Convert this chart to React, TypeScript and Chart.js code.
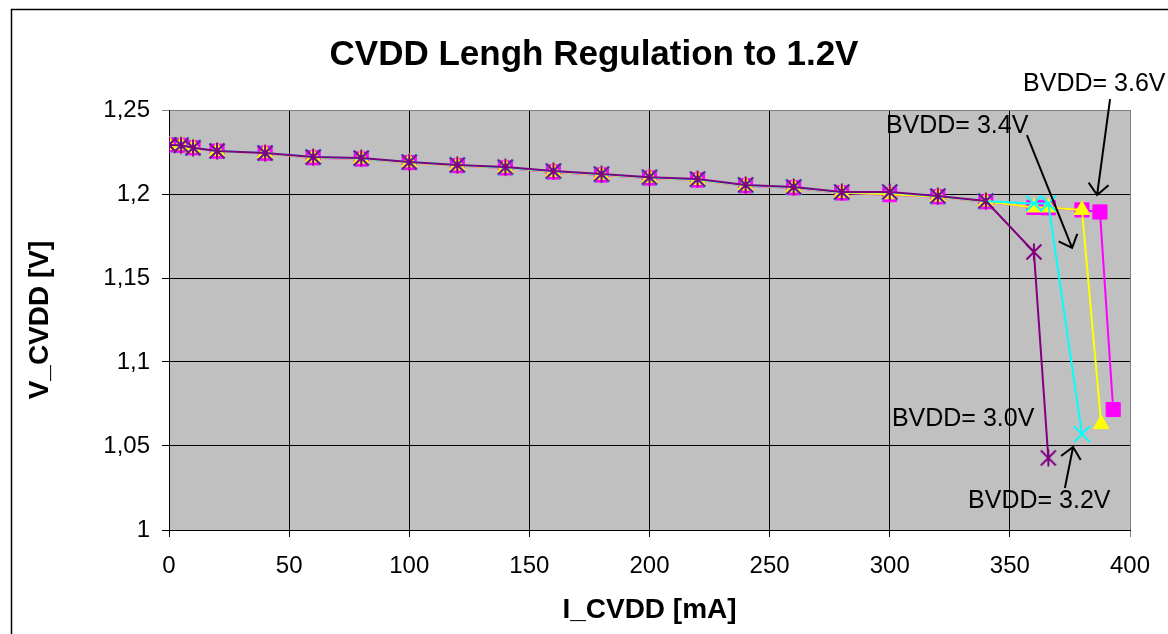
import React, { useEffect, useRef } from 'react';
import { Chart, registerables } from 'chart.js';

Chart.register(...registerables);

const CHART_TITLE = 'CVDD Lengh Regulation to 1.2V';
const X_TITLE = 'I_CVDD [mA]';
const Y_TITLE = 'V_CVDD [V]';

const Y_TICK_VALUES = [1, 1.05, 1.1, 1.15, 1.2, 1.25];
const Y_TICK_LABELS = ['1', '1,05', '1,1', '1,15', '1,2', '1,25'];
const X_TICK_VALUES = [0, 50, 100, 150, 200, 250, 300, 350, 400];

const SERIES_NAMES = ['BVDD= 3.0V', 'BVDD= 3.2V', 'BVDD= 3.4V', 'BVDD= 3.6V'];

const I_30 = [0, 5, 10, 20, 40, 60, 80, 100, 120, 140, 160, 180, 200, 220, 240, 260, 280, 300, 320, 340, 360, 366];
const V_30 = [1.2292, 1.229, 1.2275, 1.2256, 1.2244, 1.222, 1.2214, 1.219, 1.2173, 1.216, 1.2137, 1.2119, 1.21, 1.2089, 1.2054, 1.2042, 1.2012, 1.2012, 1.1988, 1.1958, 1.1655, 1.0429];

const I_32 = [0, 5, 10, 20, 40, 60, 80, 100, 120, 140, 160, 180, 200, 220, 240, 260, 280, 300, 320, 340, 360, 366, 380];
const V_32 = [1.2292, 1.229, 1.2275, 1.2256, 1.2244, 1.222, 1.2212, 1.219, 1.2172, 1.2158, 1.2135, 1.2117, 1.2098, 1.2087, 1.2052, 1.204, 1.201, 1.201, 1.1986, 1.1957, 1.1944, 1.1944, 1.0571];

const I_34 = [0, 5, 10, 20, 40, 60, 80, 100, 120, 140, 160, 180, 200, 220, 240, 260, 280, 300, 320, 340, 360, 366, 380, 388];
const V_34 = [1.2292, 1.229, 1.2275, 1.2255, 1.2243, 1.2217, 1.221, 1.2188, 1.217, 1.2156, 1.2132, 1.2114, 1.2096, 1.2084, 1.205, 1.2038, 1.2007, 1.1998, 1.1984, 1.1955, 1.192, 1.192, 1.1905, 1.063];

const I_36 = [0, 5, 10, 20, 40, 60, 80, 100, 120, 140, 160, 180, 200, 220, 240, 260, 280, 300, 320, 340, 360, 366, 380, 387.5, 393];
const V_36 = [1.2292, 1.229, 1.2275, 1.2255, 1.2243, 1.2216, 1.2208, 1.2187, 1.2169, 1.2155, 1.2131, 1.2113, 1.2095, 1.2083, 1.2049, 1.2037, 1.2006, 1.1996, 1.1983, 1.1954, 1.192, 1.1918, 1.1905, 1.1893, 1.0717];

const NOTE_TEXTS = ['BVDD= 3.6V', 'BVDD= 3.4V', 'BVDD= 3.0V', 'BVDD= 3.2V'];
const NOTE_X = [355.5, 298.4, 300.9, 332.6];
const NOTE_Y = [1.2655, 1.2405, 1.0661, 1.0173];

const ARROW_FROM_X = [391.7, 357.1, 372.9];
const ARROW_FROM_Y = [1.2565, 1.2351, 1.025];
const ARROW_TO_X = [386.3, 375.9, 376.3];
const ARROW_TO_Y = [1.1994, 1.1679, 1.0494];

const FONT = "'Liberation Sans', Arial, Helvetica, sans-serif";

function makeAsterisk(color: string): HTMLCanvasElement {
  const c = document.createElement('canvas');
  c.width = 20;
  c.height = 20;
  const g = c.getContext('2d')!;
  g.strokeStyle = color;
  g.lineWidth = 2;
  g.beginPath();
  g.moveTo(2.5, 2.5);
  g.lineTo(17.5, 17.5);
  g.moveTo(17.5, 2.5);
  g.lineTo(2.5, 17.5);
  g.moveTo(10, 1.5);
  g.lineTo(10, 18.5);
  g.stroke();
  return c;
}

function pts(xs: number[], ys: number[]) {
  return xs.map((x, i) => ({ x, y: ys[i] }));
}

const decorPlugin = {
  id: 'decor',
  beforeDraw(chart: any) {
    const { ctx, chartArea } = chart;
    ctx.save();
    ctx.fillStyle = '#FFFFFF';
    ctx.fillRect(0, 0, chart.width, chart.height);
    ctx.fillStyle = '#C0C0C0';
    ctx.fillRect(chartArea.left, chartArea.top, chartArea.right - chartArea.left, chartArea.bottom - chartArea.top);
    // outer chart frame
    ctx.strokeStyle = '#000000';
    ctx.lineWidth = 1.5;
    ctx.beginPath();
    ctx.moveTo(11.5, chart.height);
    ctx.lineTo(11.5, 9.5);
    ctx.lineTo(chart.width, 9.5);
    ctx.stroke();
    // title
    ctx.fillStyle = '#000000';
    ctx.font = `bold 35px ${FONT}`;
    ctx.textAlign = 'center';
    ctx.textBaseline = 'middle';
    ctx.fillText(CHART_TITLE, 594, 55);
    ctx.restore();
  },
  afterDraw(chart: any) {
    const { ctx } = chart;
    const xs = chart.scales.x;
    const ys = chart.scales.y;
    ctx.save();
    ctx.fillStyle = '#000000';
    ctx.font = `25px ${FONT}`;
    ctx.textAlign = 'left';
    ctx.textBaseline = 'middle';
    NOTE_TEXTS.forEach((t, i) => {
      ctx.fillText(t, xs.getPixelForValue(NOTE_X[i]), ys.getPixelForValue(NOTE_Y[i]));
    });
    ctx.strokeStyle = '#000000';
    ctx.lineWidth = 2;
    ARROW_FROM_X.forEach((_, i) => {
      const x1 = xs.getPixelForValue(ARROW_FROM_X[i]);
      const y1 = ys.getPixelForValue(ARROW_FROM_Y[i]);
      const x2 = xs.getPixelForValue(ARROW_TO_X[i]);
      const y2 = ys.getPixelForValue(ARROW_TO_Y[i]);
      const ang = Math.atan2(y2 - y1, x2 - x1);
      const len = 15;
      const spread = (42 * Math.PI) / 180;
      ctx.beginPath();
      ctx.moveTo(x1, y1);
      ctx.lineTo(x2, y2);
      ctx.moveTo(x2 - len * Math.cos(ang - spread), y2 - len * Math.sin(ang - spread));
      ctx.lineTo(x2, y2);
      ctx.lineTo(x2 - len * Math.cos(ang + spread), y2 - len * Math.sin(ang + spread));
      ctx.stroke();
    });
    ctx.restore();
  },
};

export default function App() {
  const ref = useRef<HTMLCanvasElement | null>(null);

  useEffect(() => {
    if (!ref.current) return;
    const asterisk = makeAsterisk('#800080');
    const chart = new Chart(ref.current, {
      type: 'line',
      data: {
        datasets: [
          {
            label: SERIES_NAMES[0],
            data: pts(I_30, V_30),
            borderColor: '#800080',
            backgroundColor: '#800080',
            borderWidth: 2,
            pointStyle: asterisk as any,
            pointRadius: 9,
          },
          {
            label: SERIES_NAMES[1],
            data: pts(I_32, V_32),
            borderColor: '#00FFFF',
            backgroundColor: '#00FFFF',
            borderWidth: 2,
            pointStyle: 'crossRot',
            pointRadius: 11,
            pointBorderWidth: 2,
          },
          {
            label: SERIES_NAMES[2],
            data: pts(I_34, V_34),
            borderColor: '#FFFF00',
            backgroundColor: '#FFFF00',
            borderWidth: 2,
            pointStyle: 'triangle',
            pointRadius: 9,
            pointBorderWidth: 1,
          },
          {
            label: SERIES_NAMES[3],
            data: pts(I_36, V_36),
            borderColor: '#FF00FF',
            backgroundColor: '#FF00FF',
            borderWidth: 2,
            pointStyle: 'rect',
            pointRadius: 10,
            pointBorderWidth: 1,
          },
        ],
      },
      plugins: [decorPlugin],
      options: {
        animation: false,
        responsive: false,
        events: [],
        devicePixelRatio: 1,
        layout: { padding: { left: 0, right: 38, top: 110, bottom: 0 } },
        elements: { line: { tension: 0 } },
        plugins: {
          legend: { display: false },
          title: { display: false },
          tooltip: { enabled: false },
        },
        scales: {
          x: {
            type: 'linear',
            min: 0,
            max: 400,
            afterFit: (s: any) => {
              s.height = 104;
            },
            afterBuildTicks: (s: any) => {
              s.ticks = X_TICK_VALUES.map((v) => ({ value: v }));
            },
            ticks: {
              color: '#000',
              font: { family: FONT, size: 24 },
              padding: 15,
              maxRotation: 0,
              callback: (v: any) => String(v),
            },
            grid: {
              color: (c: any) => (c.tick && c.tick.value === 400 ? '#808080' : '#000000'),
              lineWidth: 1,
              tickLength: 7,
            },
            border: { display: true, color: '#000000', width: 1 },
            title: {
              display: true,
              text: X_TITLE,
              color: '#000',
              font: { family: FONT, size: 28, weight: 'bold' },
              padding: { top: 0, bottom: 7 },
            },
          },
          y: {
            type: 'linear',
            min: 1,
            max: 1.25,
            afterFit: (s: any) => {
              s.width = 169;
            },
            afterBuildTicks: (s: any) => {
              s.ticks = Y_TICK_VALUES.map((v) => ({ value: v }));
            },
            ticks: {
              color: '#000',
              font: { family: FONT, size: 24 },
              padding: 12,
              callback: (v: any) => {
                const i = Y_TICK_VALUES.findIndex((t) => Math.abs(t - v) < 1e-6);
                return i >= 0 ? Y_TICK_LABELS[i] : '';
              },
            },
            grid: {
              color: (c: any) => (c.tick && Math.abs(c.tick.value - 1.25) < 1e-6 ? '#808080' : '#000000'),
              lineWidth: 1,
              tickLength: 7,
            },
            border: { display: true, color: '#000000', width: 1 },
            title: {
              display: true,
              text: Y_TITLE,
              color: '#000',
              font: { family: FONT, size: 28, weight: 'bold' },
              padding: { top: 23, bottom: 0 },
            },
          },
        },
      } as any,
    });
    return () => chart.destroy();
  }, []);

  return (
    <div style={{ position: 'absolute', left: 0, top: 0, width: 1168, height: 634, background: '#fff' }}>
      <canvas ref={ref} width={1168} height={634} style={{ display: 'block', width: 1168, height: 634 }} />
    </div>
  );
}
